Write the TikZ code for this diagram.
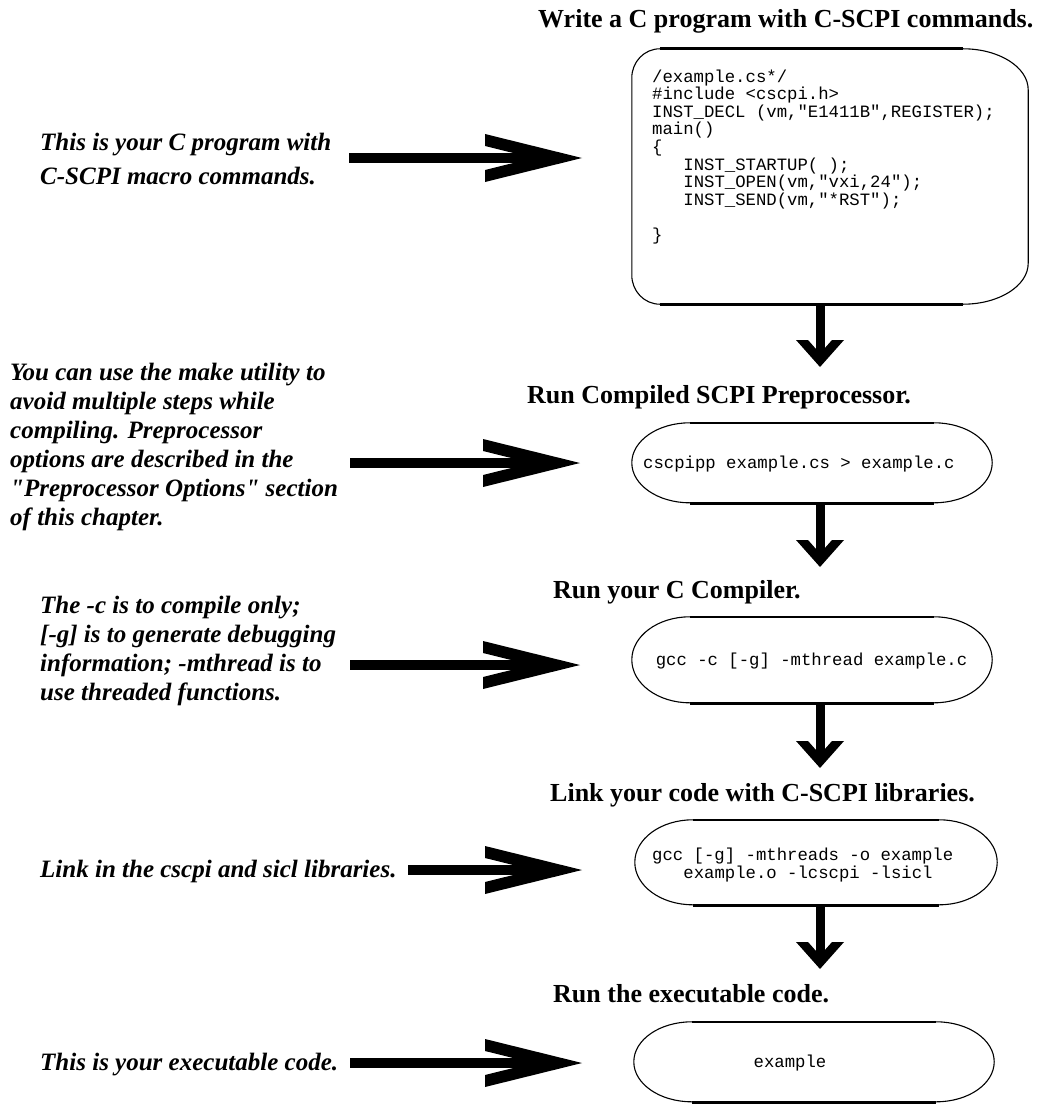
\documentclass[tikz,border=0pt]{standalone}
\usepackage{fontspec}
\setmainfont{Liberation Serif}
\newfontfamily\codefont{Liberation Mono}
\usetikzlibrary{arrows.meta,calc}

\pgfdeclarearrow{
  name = HChev,
  setup code = {
    \pgfarrowssettipend{0pt}
    \pgfarrowssetbackend{-97pt}
    \pgfarrowssetlineend{-25pt}
    \pgfarrowsupperhullpoint{-97pt}{24pt}
    \pgfarrowsupperhullpoint{0pt}{0pt}
  },
  drawing code = {
    \pgfpathmoveto{\pgfpoint{0pt}{0pt}}
    \pgfpathlineto{\pgfpoint{-97pt}{24pt}}
    \pgfpathlineto{\pgfpoint{-97pt}{12pt}}
    \pgfpathlineto{\pgfpoint{-48.5pt}{0pt}}
    \pgfpathlineto{\pgfpoint{-97pt}{-12pt}}
    \pgfpathlineto{\pgfpoint{-97pt}{-24pt}}
    \pgfpathclose
    \pgfusepathqfill
  }
}
\pgfdeclarearrow{
  name = VChev,
  setup code = {
    \pgfarrowssettipend{0pt}
    \pgfarrowssetbackend{-27pt}
    \pgfarrowssetlineend{-8pt}
    \pgfarrowsupperhullpoint{-27pt}{24pt}
    \pgfarrowsupperhullpoint{0pt}{0pt}
  },
  drawing code = {
    \pgfpathmoveto{\pgfpoint{0pt}{0pt}}
    \pgfpathlineto{\pgfpoint{-27pt}{24pt}}
    \pgfpathlineto{\pgfpoint{-27pt}{12pt}}
    \pgfpathlineto{\pgfpoint{-13.5pt}{0pt}}
    \pgfpathlineto{\pgfpoint{-27pt}{-12pt}}
    \pgfpathlineto{\pgfpoint{-27pt}{-24pt}}
    \pgfpathclose
    \pgfusepathqfill
  }
}

\tikzset{
  title/.style={anchor=base west, inner sep=0pt, font=\bfseries\fontsize{26}{29}\selectfont},
  note/.style={anchor=base west, inner sep=0pt, align=left, font=\bfseries\itshape\fontsize{25}{29}\selectfont},
  code/.style={inner sep=0pt, align=left, font=\codefont\fontsize{17.3}{17.6}\selectfont},
  box/.style={draw=none, inner sep=0pt, rectangle},
  edge/.style={line width=1.1pt},
  rim/.style={line width=2.6pt},
  hArrow/.style={line width=10pt, -{HChev}},
  vArrow/.style={line width=9pt, -{VChev}},
}

\newcommand\stadout[3]{%
  \draw[edge] ([xshift=#2pt]#1.north west) arc[start angle=90,end angle=270,x radius=#2pt,y radius=#3pt];
  \draw[edge] ([xshift=-#2pt]#1.north east) arc[start angle=90,end angle=-90,x radius=#2pt,y radius=#3pt];
  \draw[rim] ([xshift=#2pt]#1.north west) -- ([xshift=-#2pt]#1.north east);
  \draw[rim] ([xshift=#2pt]#1.south west) -- ([xshift=-#2pt]#1.south east);
}

\begin{document}
\begin{tikzpicture}[x=1pt,y=1pt]
\useasboundingbox[fill=white] (0,0) rectangle (1061,-1105);

% titles
\node[title] (t1) at (538,-28) {Write a C program with C-SCPI commands.};
\node[title] (t2) at (527,-403) {Run Compiled SCPI Preprocessor.};
\node[title] (t3) at (553,-598) {Run your C Compiler.};
\node[title] (t4) at (550,-801) {Link your code with C-SCPI libraries.};
\node[title] (t5) at (553,-1002) {Run the executable code.};

% boxes
\node[box, minimum width=396pt, minimum height=255pt] (b1) at (830,-176.5) {};
\node[box, minimum width=360pt, minimum height=80pt] (b2) at (812,-463) {};
\node[box, minimum width=360pt, minimum height=86pt] (b3) at (812,-660) {};
\node[box, minimum width=362pt, minimum height=85pt] (b4) at (816,-862.5) {};
\node[box, minimum width=360pt, minimum height=80pt] (b5) at (814,-1062) {};

% box 1 outline
\draw[edge] ([xshift=28pt]b1.north west) arc[start angle=90,end angle=180,x radius=28pt,y radius=29pt]
  -- ([yshift=29pt]b1.south west) arc[start angle=180,end angle=270,x radius=28pt,y radius=29pt];
\draw[edge] ([xshift=-65pt]b1.north east) arc[start angle=90,end angle=0,x radius=65pt,y radius=41pt]
  -- ([yshift=41pt]b1.south east) arc[start angle=0,end angle=-90,x radius=65pt,y radius=41pt];
\draw[rim] ([xshift=28pt]b1.north west) -- ([xshift=-65pt]b1.north east);
\draw[rim] ([xshift=28pt]b1.south west) -- ([xshift=-65pt]b1.south east);

\stadout{b2}{58}{40}
\stadout{b3}{58}{43}
\stadout{b4}{58}{42.5}
\stadout{b5}{58}{40}

% code texts (base = last line)
\node[code, anchor=base west] (c1) at (652,-240.4) {/example.cs*/\\
\#include <cscpi.h>\\
INST\_DECL (vm,"E1411B",REGISTER);\\
main()\\
\{\\
\hspace*{31.2pt}INST\_STARTUP( );\\
\hspace*{31.2pt}INST\_OPEN(vm,"vxi,24");\\
\hspace*{31.2pt}INST\_SEND(vm,"*RST");\\
\mbox{}\\
\}};
\node[code, anchor=base west] (c2) at (643,-468) {cscpipp example.cs > example.c};
\node[code, anchor=base] (c3) at (811.5,-665) {gcc -c {[}-g{]} -mthread example.c};
\node[code, anchor=base west] (c4) at (652,-878) {gcc {[}-g{]} -mthreads -o example\\
\hspace*{31.2pt}example.o -lcscpi -lsicl};
\node[code, anchor=base] (c5) at (790,-1067) {example};

% notes (base = last line)
\node[note] (n1) at (40,-184) {This is your C program with\\[5pt]
C-SCPI macro commands.};
\node[note] (n2) at (10,-525) {You can use the make utility to\\
avoid multiple steps while\\
compiling. Preprocessor\\
options are described in the\\
\textquotedbl Preprocessor Options\textquotedbl{} section\\
of this chapter.};
\node[note] (n3) at (40,-700) {The -c is to compile only;\\
{[}-g{]} is to generate debugging\\
information; -mthread is to\\
use threaded functions.};
\node[note] (n4) at (40,-877) {Link in the cscpi and sicl libraries.};
\node[note] (n5) at (40,-1070) {This is your executable code.};

% horizontal arrows
\coordinate (h1s) at (349,-158); \coordinate (h1e) at (582,-158);
\coordinate (h2s) at (350,-463); \coordinate (h2e) at (580,-463);
\coordinate (h3s) at (350,-665); \coordinate (h3e) at (580,-665);
\coordinate (h4s) at (408,-870); \coordinate (h4e) at (582,-870);
\coordinate (h5s) at (350,-1063); \coordinate (h5e) at (582,-1063);
\draw[hArrow] (h1s) -- (h1e);
\draw[hArrow] (h2s) -- (h2e);
\draw[hArrow] (h3s) -- (h3e);
\draw[hArrow] (h4s) -- (h4e);
\draw[hArrow] (h5s) -- (h5e);

% vertical arrows
\coordinate (d1) at (820,-367);
\coordinate (d2) at (820,-567);
\coordinate (d3) at (820,-768);
\coordinate (d4) at (820,-969);
\draw[vArrow] (b1.south -| d1) -- (d1);
\draw[vArrow] (b2.south -| d2) -- (d2);
\draw[vArrow] (b3.south -| d3) -- (d3);
\draw[vArrow] (b4.south -| d4) -- (d4);
\end{tikzpicture}
\end{document}
